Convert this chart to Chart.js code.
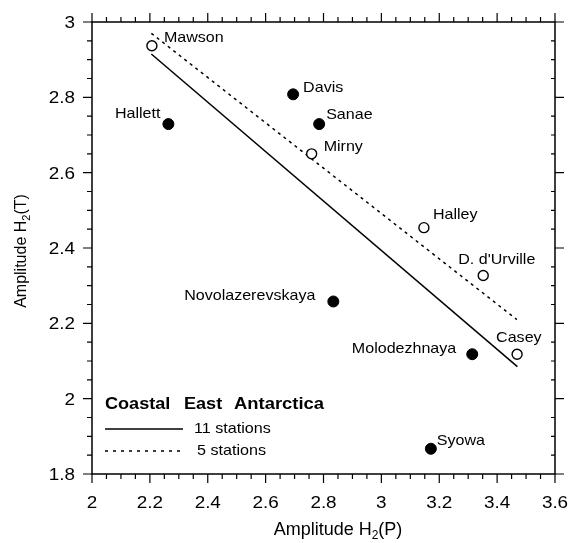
<!DOCTYPE html>
<html>
<head>
<meta charset="utf-8">
<script src="https://cdn.jsdelivr.net/npm/chart.js@4"></script>
<style>
  html, body { margin: 0; padding: 0; background: #fff; }
  #chart { display: block; }
</style>
</head>
<body>
<canvas id="chart" width="568" height="543"></canvas>
<script>
// filled circles
const filledNames = ['Hallett', 'Davis', 'Sanae', 'Novolazerevskaya', 'Molodezhnaya', 'Syowa'];
const filledX = [2.264, 2.695, 2.785, 2.834, 3.314, 3.171];
const filledY = [2.729, 2.808, 2.729, 2.258, 2.118, 1.867];

// open circles
const openNames = ['Mawson', 'Mirny', 'Halley', "D. d'Urville", 'Casey'];
const openX = [2.207, 2.759, 3.147, 3.352, 3.469];
const openY = [2.937, 2.650, 2.454, 2.327, 2.118];

// regression lines
const fitAllX = [2.205, 3.47];
const fitAllY = [2.915, 2.085];
const fitOpenX = [2.205, 3.468];
const fitOpenY = [2.97, 2.21];

const xTicks = [2, 2.2, 2.4, 2.6, 2.8, 3, 3.2, 3.4, 3.6];
const yTicks = [1.8, 2, 2.2, 2.4, 2.6, 2.8, 3];

// label offsets in px (dx, dy, align)
const filledLabelPos = [[-8, -10, 'right'], [10, -6, 'left'], [7, -9, 'left'], [-18, -6, 'right'], [-16, -5, 'right'], [6, -8, 'left']];
const openLabelPos = [[12, -8, 'left'], [12, -7, 'left'], [9, -13, 'left'], [-25, -16, 'left'], [-21, -16, 'left']];

const FONT = '"Liberation Sans", Arial, Helvetica, sans-serif';

function toPoints(xs, ys) {
    return xs.map((x, i) => ({ x: x, y: ys[i] }));
}

function fmt(v) {
    return String(Number(v.toFixed(1)));
}

// the scanned figure has slightly wide lettering
function wideText(ctx, text, x, y, align, sx) {
    ctx.save();
    ctx.translate(x, y);
    ctx.scale(sx, 1);
    ctx.textAlign = align;
    ctx.fillText(text, 0, 0);
    ctx.restore();
}

const data = {
    datasets: [
        {
            label: '11 stations',
            type: 'line',
            data: toPoints(fitAllX, fitAllY),
            borderColor: '#000',
            borderWidth: 1.5,
            pointRadius: 0,
            fill: false,
            order: 3
        },
        {
            label: '5 stations',
            type: 'line',
            data: toPoints(fitOpenX, fitOpenY),
            borderColor: '#000',
            borderWidth: 1.5,
            borderDash: [3, 4],
            pointRadius: 0,
            fill: false,
            order: 3
        },
        {
            label: 'filled',
            type: 'scatter',
            data: toPoints(filledX, filledY),
            backgroundColor: '#000',
            borderColor: '#000',
            borderWidth: 1,
            pointRadius: 5.5,
            order: 1
        },
        {
            label: 'open',
            type: 'scatter',
            data: toPoints(openX, openY),
            backgroundColor: '#fff',
            borderColor: '#000',
            borderWidth: 1.4,
            pointRadius: 5,
            order: 1
        }
    ]
};

// frame, tick marks, tick labels, station names, legend, axis titles
const decor = {
    id: 'decor',
    afterDatasetsDraw: (chart) => {
        const ctx = chart.ctx;
        const a = chart.chartArea;
        const xs = chart.scales.x;
        const ys = chart.scales.y;
        ctx.save();

        ctx.strokeStyle = '#000';
        ctx.lineWidth = 1.5;
        ctx.strokeRect(a.left, a.top, a.right - a.left, a.bottom - a.top);

        ctx.lineWidth = 1.2;
        ctx.beginPath();
        for (let i = 0; i <= 32; i++) {
            const px = xs.getPixelForValue(2 + i * 0.05);
            const len = i % 4 === 0 ? 9 : 5;
            ctx.moveTo(px, a.bottom); ctx.lineTo(px, a.bottom + len);
            ctx.moveTo(px, a.top); ctx.lineTo(px, a.top - len);
        }
        for (let i = 0; i <= 24; i++) {
            const py = ys.getPixelForValue(1.8 + i * 0.05);
            const len = i % 4 === 0 ? 9 : 5;
            ctx.moveTo(a.left, py); ctx.lineTo(a.left - len, py);
            ctx.moveTo(a.right, py); ctx.lineTo(a.right + (i % 4 === 0 ? 9 : -4), py);
        }
        ctx.stroke();

        ctx.fillStyle = '#000';
        ctx.textBaseline = 'middle';

        // tick labels
        ctx.font = '16px ' + FONT;
        xs.ticks.forEach(t => wideText(ctx, fmt(t.value), xs.getPixelForValue(t.value), 504, 'center', 1.18));
        ys.ticks.forEach(t => wideText(ctx, fmt(t.value), 75, ys.getPixelForValue(t.value) + 1.5, 'right', 1.18));

        // station names
        ctx.font = '15px ' + FONT;
        const drawNames = (names, xv, yv, pos) => {
            names.forEach((n, i) => {
                wideText(ctx, n, xs.getPixelForValue(xv[i]) + pos[i][0], ys.getPixelForValue(yv[i]) + pos[i][1], pos[i][2], 1.07);
            });
        };
        drawNames(filledNames, filledX, filledY, filledLabelPos);
        drawNames(openNames, openX, openY, openLabelPos);

        // legend
        ctx.font = 'bold 16px ' + FONT;
        wideText(ctx, 'Coastal', 105, 405, 'left', 1.13);
        wideText(ctx, 'East', 184, 405, 'left', 1.13);
        wideText(ctx, 'Antarctica', 234, 405, 'left', 1.15);
        ctx.font = '15px ' + FONT;
        wideText(ctx, '11 stations', 194, 429, 'left', 1.075);
        wideText(ctx, '5 stations', 197, 451, 'left', 1.075);
        ctx.lineWidth = 1.5;
        ctx.beginPath();
        ctx.moveTo(105, 429); ctx.lineTo(183, 429);
        ctx.stroke();
        ctx.setLineDash([3, 5]);
        ctx.beginPath();
        ctx.moveTo(105, 451); ctx.lineTo(183, 451);
        ctx.stroke();
        ctx.setLineDash([]);

        // axis titles with subscript 2
        const title = (end, size) => {
            const main = 'Amplitude H';
            const sub = Math.round(size * 0.68);
            ctx.textAlign = 'left';
            ctx.font = size + 'px ' + FONT;
            const w1 = ctx.measureText(main).width;
            const w3 = ctx.measureText(end).width;
            ctx.font = sub + 'px ' + FONT;
            const w2 = ctx.measureText('2').width;
            let x = -(w1 + w2 + w3) / 2;
            ctx.font = size + 'px ' + FONT;
            ctx.fillText(main, x, 0);
            x += w1;
            ctx.font = sub + 'px ' + FONT;
            ctx.fillText('2', x, size * 0.33);
            x += w2;
            ctx.font = size + 'px ' + FONT;
            ctx.fillText(end, x, 0);
        };
        ctx.save();
        ctx.translate(338, 530);
        title('(P)', 18);
        ctx.restore();
        ctx.save();
        ctx.translate(22, 251);
        ctx.rotate(-Math.PI / 2);
        title('(T)', 16);
        ctx.restore();

        ctx.restore();
    }
};

const config = {
    type: 'scatter',
    data: data,
    options: {
        responsive: false,
        animation: false,
        layout: {
            padding: { left: 0, right: 13, top: 22, bottom: 0 }
        },
        plugins: {
            legend: { display: false },
            tooltip: { enabled: false }
        },
        scales: {
            x: {
                type: 'linear',
                min: 2,
                max: 3.6,
                afterFit: (scale) => { scale.height = 69; },
                afterBuildTicks: (scale) => { scale.ticks = xTicks.map(v => ({ value: v })); },
                grid: { display: false },
                border: { display: false },
                ticks: { display: false }
            },
            y: {
                type: 'linear',
                min: 1.8,
                max: 3,
                afterFit: (scale) => { scale.width = 92; },
                afterBuildTicks: (scale) => { scale.ticks = yTicks.map(v => ({ value: v })); },
                grid: { display: false },
                border: { display: false },
                ticks: { display: false }
            }
        }
    },
    plugins: [decor]
};

let chart = new Chart(
    document.getElementById('chart'),
    config
);
</script>
</body>
</html>
